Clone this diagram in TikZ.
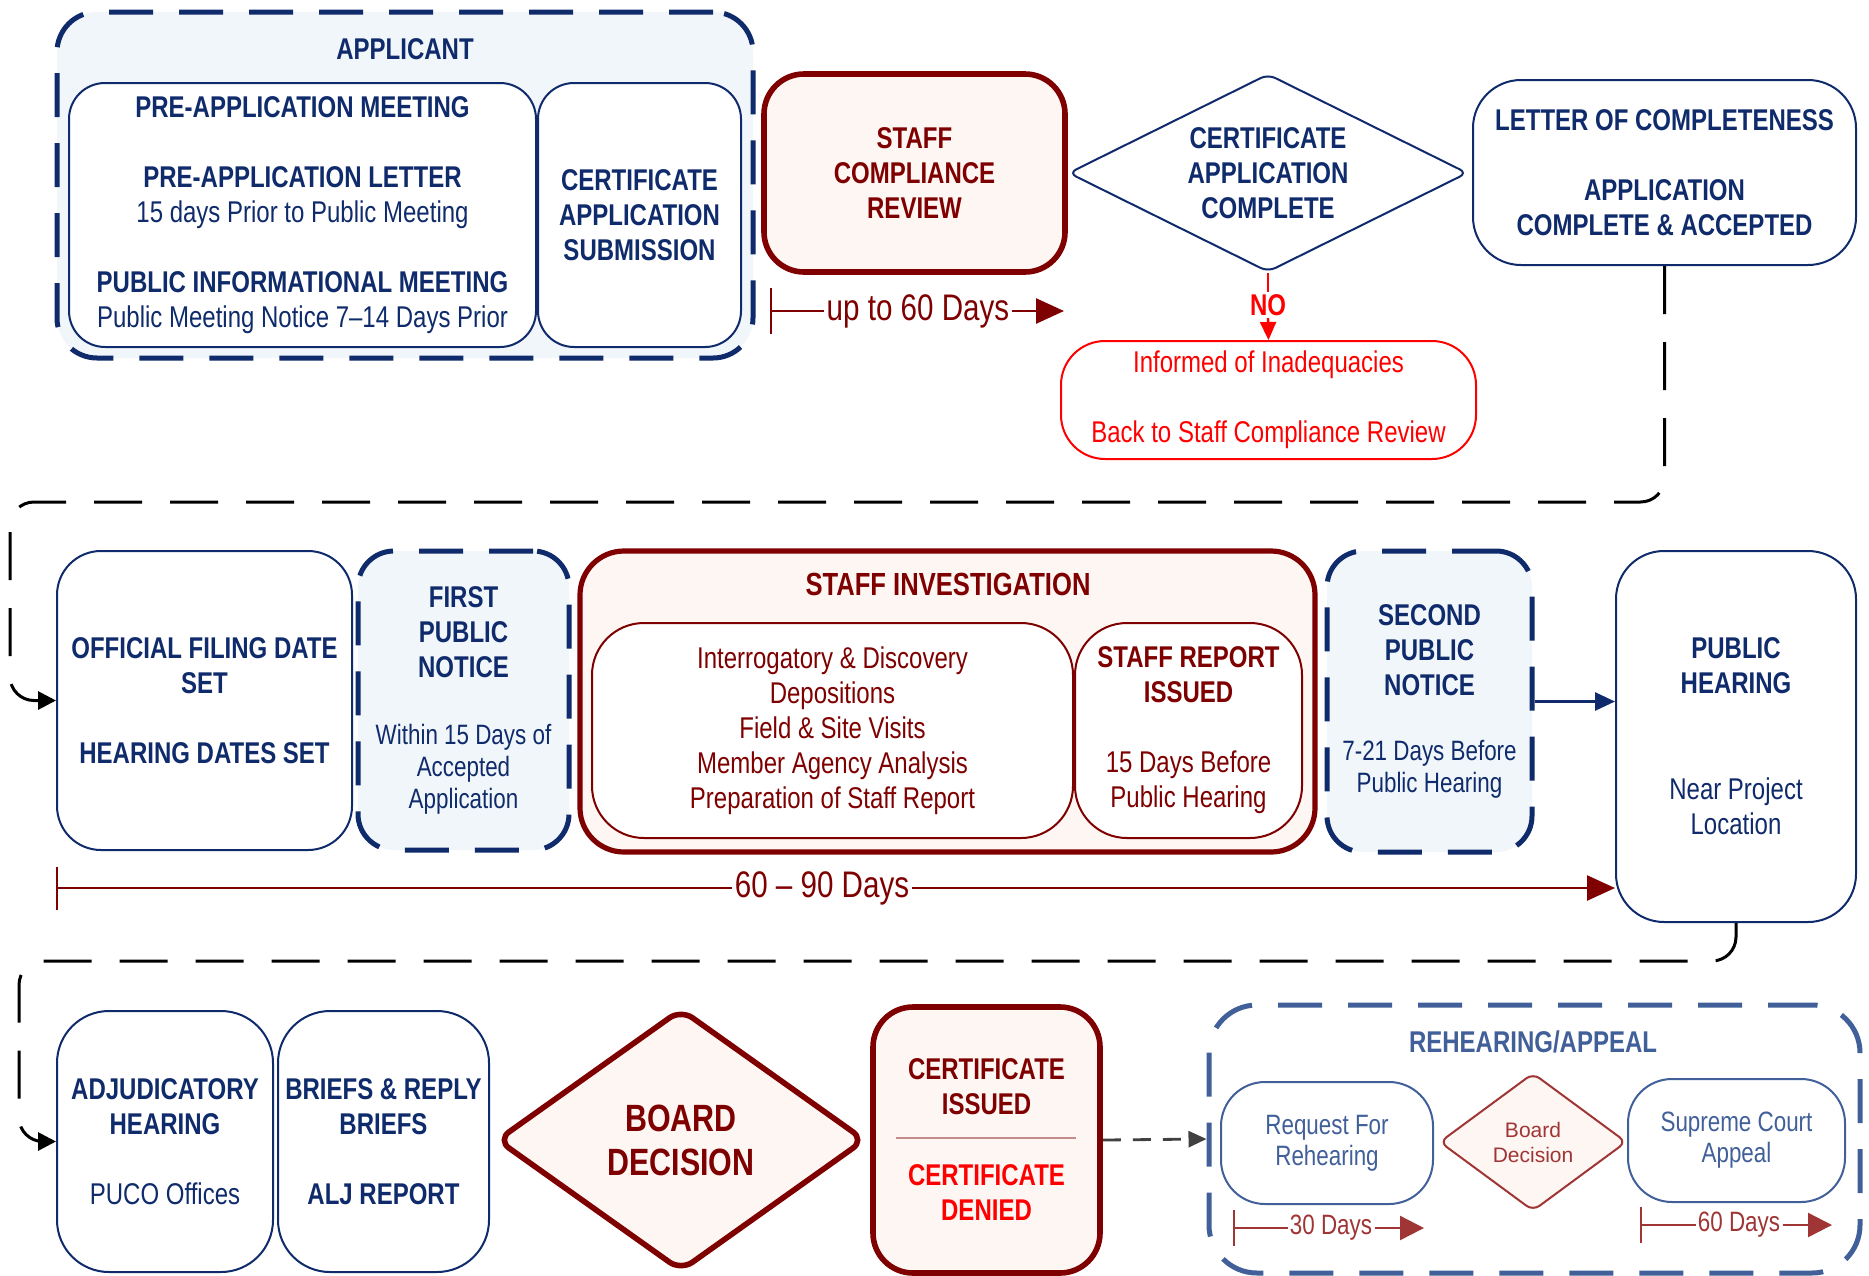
\documentclass[tikz,border=0pt]{standalone}
\usepackage{fontspec}
\setmainfont{Liberation Sans}[FakeStretch=0.8]
\newfontfamily\wideff{Liberation Sans}
\usetikzlibrary{arrows.meta,shapes.geometric}
\definecolor{navy}{HTML}{0F2B6B}
\definecolor{dred}{HTML}{7F0000}
\definecolor{bred}{HTML}{FF0000}
\definecolor{steel}{HTML}{41609A}
\definecolor{rred}{HTML}{A03535}
\definecolor{lblue}{HTML}{F1F6FA}
\definecolor{lpink}{HTML}{FDF6F3}
\newcommand\nrm{\fontsize{15}{17.5}\selectfont}
\newcommand\nsm{\fontsize{14}{16}\selectfont}
\newcommand\nbig{\fontsize{18.5}{21}\selectfont}
\tikzset{
  rect/.style n args={4}{minimum width={(#3-#1)*0.5pt}, minimum height={(#4-#2)*0.5pt}, at={({(#1+#3)/2},{(#2+#4)/2})}},
  nbox/.style={draw=navy, line width=1pt, rounded corners=18pt, fill=white, inner sep=0pt, align=center, text=navy, font=\nrm},
  dbox/.style={draw=navy, line width=2.5pt, dash pattern=on 22pt off 13pt, rounded corners=18pt, fill=lblue, inner sep=0pt, align=center, text=navy, font=\nrm},
  rbox/.style={draw=dred, line width=2.8pt, rounded corners=20pt, fill=lpink, inner sep=0pt, align=center, text=dred, font=\nrm\bfseries},
  rthin/.style={draw=dred, line width=1pt, rounded corners=18pt, fill=white, inner sep=0pt, align=center, text=dred, font=\nrm},
  sbox/.style={draw=steel, line width=1pt, rounded corners=22pt, fill=white, inner sep=0pt, align=center, text=steel, font=\fontsize{14}{15.5}\selectfont},
  conn/.style={draw=black, line width=1.5pt, dash pattern=on 24pt off 14pt, rounded corners=12pt, -{Triangle[length=9pt,width=9pt]}},
  tline/.style={draw=dred, line width=1.3pt},
  ttip/.style={tline, -{Triangle[length=14pt,width=12.5pt]}},
  tlabel/.style={text=dred, font=\nbig, inner sep=1pt},
  rline/.style={draw=rred, line width=1.2pt},
  rtip/.style={rline, -{Triangle[length=12pt,width=12pt]}},
  rlabel/.style={text=rred, font=\fontsize{14}{16}\selectfont, inner sep=1pt},
}
\begin{document}
\begin{tikzpicture}[x=0.5pt,y=-0.5pt]
\fill[white] (0,0) rectangle (1869,1275);
\useasboundingbox (0,0) rectangle (1869,1275);

% ---------- top row ----------
\node[dbox, rounded corners=20pt, rect={57}{12}{753}{358}] (appl) {};
\node[text=navy, font=\nrm\bfseries] (applt) at (405,49) {APPLICANT};
\node[nbox, rect={69}{83}{536}{347}] (pre) {\textbf{PRE-APPLICATION MEETING}\\[17.5pt]\textbf{PRE-APPLICATION LETTER}\\15 days Prior to Public Meeting\\[17.5pt]\textbf{PUBLIC INFORMATIONAL MEETING}\\Public Meeting Notice 7–14 Days Prior};
\node[nbox, font=\nrm\bfseries, rect={538}{83}{741}{347}] (sub) {CERTIFICATE\\APPLICATION\\SUBMISSION};
\node[rbox, rect={764}{74}{1065}{272}] (scr) {STAFF\\COMPLIANCE\\REVIEW};
\node[diamond, shape aspect=2, draw=navy, line width=1pt, rounded corners=4pt, fill=white, minimum width=199.5pt, minimum height=99pt, inner sep=0pt, align=center, text=navy, font=\nrm\bfseries] (cac) at (1268,173) {CERTIFICATE\\APPLICATION\\COMPLETE};
\node[nbox, rounded corners=24pt, font=\nrm\bfseries, rect={1473}{80}{1856}{265}] (loc) {LETTER OF COMPLETENESS\\[17.5pt]APPLICATION\\COMPLETE \& ACCEPTED};
\node[draw=bred, line width=1pt, rounded corners=22pt, fill=white, inner sep=0pt, align=center, text=bred, font=\nrm, rect={1061}{341}{1476}{459}] (inf) {Informed of Inadequacies\\[17.5pt]Back to Staff Compliance Review};
\node[text=bred, font=\nrm\bfseries, inner sep=1pt] (no) at (1268,305) {NO};
\draw[bred, line width=1.2pt] (cac.south) -- (no.north);
\draw[bred, line width=1.2pt, -{Triangle[length=9pt,width=8pt]}] (no.south) -- (inf.north);

\draw[tline] (771,288) -- (771,334);
\coordinate (u0) at (771,311);
\coordinate (u1) at (1064,311);
\node[tlabel] (u60) at (918,311) {up to 60 Days};
\draw[tline] (u0) -- (u60.west);
\draw[ttip] (u60.east) -- (u1);

% ---------- middle row ----------
\node[nbox, rounded corners=22pt, font=\nrm\bfseries, rect={57}{551}{352}{850}] (ofd) {OFFICIAL FILING DATE\\SET\\[17.5pt]HEARING DATES SET};
\node[dbox, rect={358}{551}{569}{850}] (fpn) {\textbf{FIRST}\\\textbf{PUBLIC}\\\textbf{NOTICE}\\[16pt]{\nsm Within 15 Days of}\\[-1.5pt]{\nsm Accepted}\\[-1.5pt]{\nsm Application}};
\node[rbox, line width=2.6pt, rounded corners=22pt, rect={580}{551}{1315}{852}] (si) {};
\node[text=dred, font=\fontsize{16}{18}\selectfont\bfseries] (sit) at (948,584) {STAFF INVESTIGATION};
\node[rthin, rounded corners=26pt, rect={592}{623}{1073}{838}] (sil) {Interrogatory \& Discovery\\Depositions\\Field \& Site Visits\\Member Agency Analysis\\Preparation of Staff Report};
\node[rthin, rounded corners=26pt, rect={1075}{623}{1302}{838}] (sir) {\textbf{STAFF REPORT}\\\textbf{ISSUED}\\[17.5pt]15 Days Before\\Public Hearing};
\node[dbox, rect={1327}{551}{1532}{852}] (spn) {\textbf{SECOND}\\\textbf{PUBLIC}\\\textbf{NOTICE}\\[15pt]{\nsm 7-21 Days Before}\\[-1.5pt]{\nsm Public Hearing}};
\node[nbox, rounded corners=24pt, rect={1616}{551}{1856}{922}] (ph) {\textbf{PUBLIC}\\\textbf{HEARING}\\[35.5pt]Near Project\\Location};
\draw[navy, line width=1.4pt, -{Triangle[length=10pt,width=9pt]}] (spn.east) -- (spn.east -| ph.west);

\draw[conn] (loc.south) -- (1664.5,502) -- (10,502) -- (10,700.5) -- (ofd.west);

\draw[tline] (57,867) -- (57,910);
\coordinate (s0) at (57,888);
\node[tlabel] (d69) at (822,888) {60 – 90 Days};
\draw[tline] (s0) -- (d69.west);
\draw[ttip] (d69.east) -- (d69.east -| ph.west);

% ---------- bottom row ----------
\node[nbox, rounded corners=26pt, rect={57}{1011}{273}{1272}] (adj) {\textbf{ADJUDICATORY}\\\textbf{HEARING}\\[17.5pt]PUCO Offices};
\node[nbox, rounded corners=26pt, font=\nrm\bfseries, rect={278}{1011}{489}{1272}] (brf) {BRIEFS \& REPLY\\BRIEFS\\[17.5pt]ALJ REPORT};
\draw[conn] (ph.south) -- (1736,961) -- (19,961) -- (19,1141.5) -- (adj.west);

\node[diamond, shape aspect=1.4, draw=dred, line width=2.8pt, rounded corners=7pt, fill=lpink, minimum width=184.5pt, minimum height=131.5pt, inner sep=0pt, align=center, text=dred, font=\fontsize{19}{22}\selectfont\bfseries] (bd) at (681,1140) {BOARD\\DECISION};
\node[rbox, rect={873}{1007}{1100}{1273}] (cid) {CERTIFICATE\\ISSUED\\[18pt]\textcolor{bred}{CERTIFICATE}\\\textcolor{bred}{DENIED}};
\draw[draw=dred!45, line width=1.2pt] (896,1138) -- (1076,1138);

\node[draw=steel, line width=2.5pt, dash pattern=on 22pt off 13pt, rounded corners=24pt, fill=white, inner sep=0pt, rect={1209}{1005}{1860}{1273}] (rh) {};
\node[text=steel, font=\nrm\bfseries] (rht) at (1533,1042) {REHEARING/APPEAL};
\node[sbox, rect={1221}{1082}{1433}{1204}] (rfr) {Request For\\Rehearing};
\node[diamond, shape aspect=1.35, draw=rred, line width=1pt, rounded corners=4pt, fill=lpink, minimum width=93.5pt, minimum height=69pt, inner sep=0pt, align=center, text=rred, font=\wideff\fontsize{10.5}{12.5}\selectfont] (bds) at (1533,1142) {Board\\Decision};
\node[sbox, rect={1628}{1079}{1845}{1202}] (sca) {Supreme Court\\Appeal};
\draw[draw=black!75, line width=1.4pt, dash pattern=on 9pt off 6pt, -{Triangle[length=9pt,width=8pt]}] (cid.east) -- (rh.west);

\draw[rline] (1234,1210) -- (1234,1246);
\coordinate (r0) at (1234,1228);
\coordinate (r1) at (1424,1228);
\node[rlabel] (t30) at (1331,1228) {30 Days};
\draw[rline] (r0) -- (t30.west);
\draw[rtip] (t30.east) -- (r1);

\draw[rline] (1641,1207) -- (1641,1243);
\coordinate (q0) at (1641,1225);
\coordinate (q1) at (1832,1225);
\node[rlabel] (t60) at (1739,1225) {60 Days};
\draw[rline] (q0) -- (t60.west);
\draw[rtip] (t60.east) -- (q1);
\end{tikzpicture}
\end{document}
